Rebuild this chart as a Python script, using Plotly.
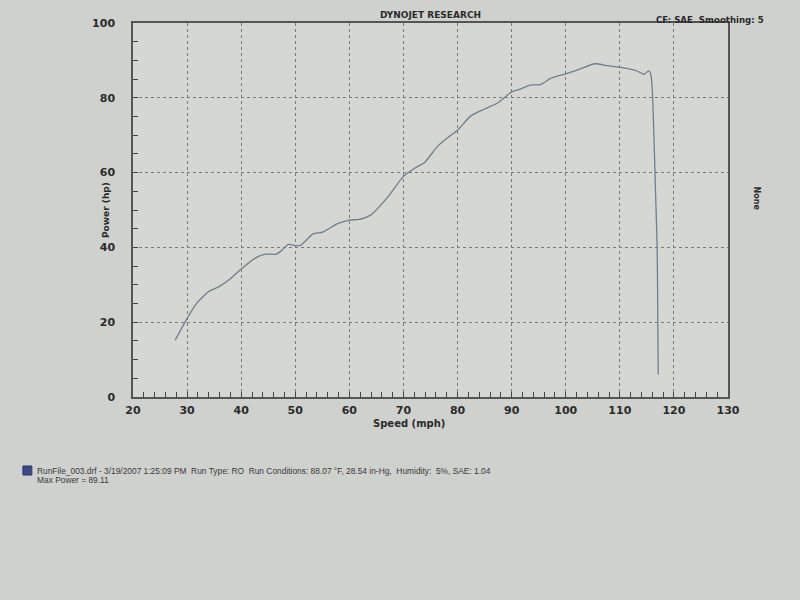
import plotly.graph_objects as go

speed = [27.8, 29.8, 31.7, 34.0, 35.9, 38.0, 39.9, 42.7, 44.5, 46.5, 47.5, 48.7, 50.0, 50.9,
         53.3, 55.1, 57.9, 60.0, 61.8, 64.0, 67.0, 70.0, 72.0, 73.9, 76.3, 78.5, 80.0,
         82.4, 85.0, 87.4, 90.0, 91.6, 93.4, 95.3, 97.2, 98.5, 100.0, 102.5, 105.4,
         107.7, 109.8, 111.5, 113.3, 114.5, 115.3, 115.7, 116.0, 116.3, 116.6, 116.9,
         117.0, 117.1]
power = [15.2, 20.5, 24.9, 28.2, 29.5, 31.6, 34.1, 37.2, 38.2, 38.2, 39.2, 40.8, 40.5,
         40.5, 43.6, 44.1, 46.4, 47.3, 47.5, 48.7, 53.3, 59.0, 61.1, 62.7, 67.0, 69.7,
         71.3, 75.1, 77.0, 78.6, 81.6, 82.3, 83.4, 83.5, 85.2, 85.8, 86.4, 87.6, 89.1,
         88.6, 88.2, 87.8, 87.1, 86.3, 87.2, 86.5, 82.0, 70.0, 55.0, 40.0, 25.0, 6.0]

x_ticks = [20, 30, 40, 50, 60, 70, 80, 90, 100, 110, 120, 130]
y_ticks = [0, 20, 40, 60, 80, 100]

header_left = "DYNOJET RESEARCH"
header_right = "CF: SAE  Smoothing: 5"
right_label = "None"
x_title = "Speed (mph)"
y_title = "Power (hp)"
run_info = ("RunFile_003.drf - 3/19/2007 1:25:09 PM  Run Type: RO  Run Conditions: 88.07 °F, "
            "28.54 in-Hg,  Humidity:  5%, SAE: 1.04")
max_power = "Max Power = 89.11"

FONT = "DejaVu Sans"
INK = "#2b2b2b"

fig = go.Figure()
fig.add_trace(go.Scatter(
    x=speed, y=power, mode="lines",
    line=dict(color="#6f7f8d", width=1.3, shape="spline", smoothing=0.6),
    showlegend=False, hoverinfo="skip"))

fig.update_layout(
    width=800, height=600,
    margin=dict(l=133, r=72, t=23, b=203),
    paper_bgcolor="#cfd1cd",
    plot_bgcolor="#d5d7d3",
    font=dict(family=FONT, color=INK, size=11),
    xaxis=dict(
        range=[20, 130], tickvals=x_ticks, ticktext=[str(v) for v in x_ticks],
        showgrid=True, gridcolor="#7a7c7a", griddash="dot", gridwidth=1,
        showline=True, linecolor="#555", linewidth=2, mirror=True,
        ticks="inside", ticklen=5, tickcolor="#444",
        minor=dict(dtick=2, ticks="inside", ticklen=5, tickcolor="#444", showgrid=False),
        tickfont=dict(family=FONT, size=11, color=INK, weight="bold"),
        ticklabelstandoff=2,
        zeroline=False,
    ),
    yaxis=dict(
        range=[0, 100], tickvals=y_ticks, ticktext=[str(v) for v in y_ticks],
        showgrid=True, gridcolor="#7a7c7a", griddash="dot", gridwidth=1,
        showline=True, linecolor="#555", linewidth=1.5, mirror=True,
        ticks="inside", ticklen=5, tickcolor="#444",
        minor=dict(dtick=5, ticks="inside", ticklen=5, tickcolor="#444", showgrid=False),
        tickfont=dict(family=FONT, size=11, color=INK, weight="bold"),
        ticklabelstandoff=14,
        zeroline=False,
    ),
)

# axis titles placed like the printout
fig.add_annotation(x=71.0, y=0, xref="x", yref="y", yanchor="top", yshift=-19,
                   text="<b>" + x_title + "</b>", showarrow=False,
                   font=dict(family=FONT, size=10, color=INK))
fig.add_annotation(x=20, y=0.5, xref="x", yref="paper", xanchor="center", xshift=-27,
                   text="<b>" + y_title + "</b>", textangle=-90, showarrow=False,
                   font=dict(family=FONT, size=9, color=INK))

fig.add_annotation(x=0.5, y=1.0, xref="paper", yref="paper", yanchor="bottom", yshift=1,
                   text="<b>" + header_left + "</b>", showarrow=False,
                   font=dict(family=FONT, size=9, color=INK))
fig.add_annotation(x=1.0, y=1.0, xref="paper", yref="paper", xanchor="left", yanchor="bottom",
                   xshift=-74, yshift=-4,
                   text="<b>" + header_right + "</b>", showarrow=False,
                   font=dict(family=FONT, size=8.6, color=INK))
fig.add_annotation(x=1.0, y=0.5, xref="paper", yref="paper", xanchor="left", xshift=22,
                   yshift=12,
                   text="<b>" + right_label + "</b>", textangle=90, showarrow=False,
                   font=dict(family=FONT, size=8, color=INK))

# legend-like footer
fig.add_shape(type="rect", xref="paper", yref="paper",
              x0=-0.185, x1=-0.170, y0=-0.1845, y1=-0.2086,
              fillcolor="#3a4a8a", line=dict(color="#2a356a", width=1))
fig.add_annotation(x=-0.164, y=-0.198, xref="paper", yref="paper", xanchor="left",
                   yanchor="middle", text=run_info, showarrow=False, align="left",
                   font=dict(family="Liberation Sans", size=8.4, color="#3a3a3a"))
fig.add_annotation(x=-0.164, y=-0.222, xref="paper", yref="paper", xanchor="left",
                   yanchor="middle", text=max_power, showarrow=False, align="left",
                   font=dict(family="Liberation Sans", size=8.4, color="#3a3a3a"))

fig.write_html("out.html", config={"displayModeBar": False},
               post_script="document.body.style.margin='0';")
